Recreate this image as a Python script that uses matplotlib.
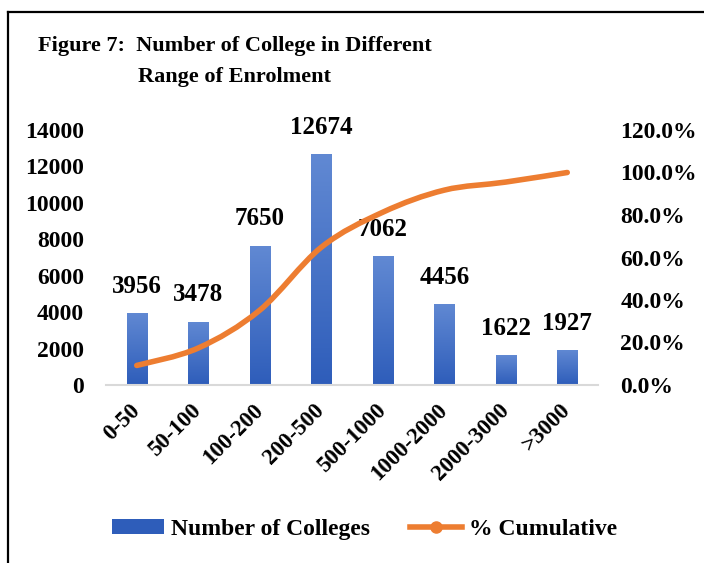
"""
Figure 7 — Number of College in Different Range of Enrolment
bar + cumulative % line, Excel-style recreation
"""
import numpy as np
import matplotlib
matplotlib.use('Agg')
import matplotlib.pyplot as plt
from matplotlib.path import Path as MPath
from matplotlib.patches import PathPatch
from matplotlib.lines import Line2D
from matplotlib.colors import LinearSegmentedColormap

plt.rcParams['font.family'] = ['Liberation Serif', 'DejaVu Serif']
plt.rcParams['font.weight'] = 'bold'

# ─── data ────────────────────────────────
ranges = ['0-50', '50-100', '100-200', '200-500', '500-1000',
          '1000-2000', '2000-3000', '>3000']
colleges = [3956, 3478, 7650, 12674, 7062, 4456, 1622, 1927]
cum_pct = [9.2, 17.4, 35.2, 64.8, 81.3, 91.7, 95.5, 100.0]

left_ticks = [0, 2000, 4000, 6000, 8000, 10000, 12000, 14000]
right_ticks = [0, 20, 40, 60, 80, 100, 120]

BLUE_TOP = '#6189D3'
BLUE_BOT = '#2E5DBA'
ORANGE = '#ED7D31'
GRID = '#D9D9D9'

fig = plt.figure(figsize=(7.04, 5.63), dpi=100, facecolor='white')

# frame lines (left + top, the picture is cropped on the other sides)
fig.add_artist(Line2D([8/704, 8/704], [0, 551/563], color='black', lw=1.6))
fig.add_artist(Line2D([8/704, 1], [551/563, 551/563], color='black', lw=1.6))

fig.text(0.333, 0.918, 'Figure 7:  Number of College in Different',
         fontsize=16, ha='center', va='center')
fig.text(0.333, 0.863, 'Range of Enrolment', fontsize=16, ha='center', va='center')

ax = fig.add_axes([106/704, 178/563, 492/704, 255/563])
x = np.arange(len(ranges))
bars = ax.bar(x, colleges, width=0.33, color=BLUE_BOT, zorder=2)

# vertical gradient on each bar
cmap = LinearSegmentedColormap.from_list('bg', [BLUE_BOT, BLUE_TOP])
grad = np.linspace(0, 1, 256).reshape(-1, 1)
for b in bars:
    x0, w, h = b.get_x(), b.get_width(), b.get_height()
    im = ax.imshow(grad, cmap=cmap, origin='lower', aspect='auto',
                   extent=[x0, x0 + w, 0, h], zorder=2.1)
    im.set_clip_path(b)

for xi, v in zip(x, colleges):
    ax.annotate(str(v), (xi, v), xytext=(0, 11), textcoords='offset points',
                ha='center', va='bottom', fontsize=18, fontweight='bold')

ax.set_xlim(-0.5, len(ranges) - 0.5)
ax.set_ylim(0, 14000)
ax.set_yticks(left_ticks)
ax.set_yticklabels([str(t) for t in left_ticks], fontsize=17, fontweight='bold')
ax.set_xticks(x)
ax.set_xticklabels(ranges, rotation=45, ha='right', va='center',
                   rotation_mode='anchor', fontsize=16.5, fontweight='bold')
ax.tick_params(axis='y', length=0, pad=16)
ax.tick_params(axis='x', length=0, pad=16)
for s in ['top', 'right', 'left']:
    ax.spines[s].set_visible(False)
ax.spines['bottom'].set_color(GRID)
ax.spines['bottom'].set_linewidth(1.5)
ax.set_facecolor('none')

# secondary axis: smoothed cumulative line
ax2 = ax.twinx()
ax2.set_ylim(0, 120)
ax2.set_yticks(right_ticks)
ax2.set_yticklabels([f'{t:.1f}%' for t in right_ticks], fontsize=17, fontweight='bold')
ax2.tick_params(axis='y', length=0, pad=16)
for s in ax2.spines.values():
    s.set_visible(False)

# Catmull-Rom style bezier through the points (Excel "smoothed line")
px = np.asarray(x, float)
py = np.asarray(cum_pct, float)
verts = [(px[0], py[0])]
codes = [MPath.MOVETO]
for i in range(len(px) - 1):
    p0 = (px[i-1], py[i-1]) if i > 0 else (px[i], py[i])
    p1 = (px[i], py[i])
    p2 = (px[i+1], py[i+1])
    p3 = (px[i+2], py[i+2]) if i + 2 < len(px) else (px[i+1], py[i+1])
    t = 1 / 6
    c1 = (p1[0] + (p2[0] - p0[0]) * t, p1[1] + (p2[1] - p0[1]) * t)
    c2 = (p2[0] - (p3[0] - p1[0]) * t, p2[1] - (p3[1] - p1[1]) * t)
    verts += [c1, c2, p2]
    codes += [MPath.CURVE4] * 3
ax2.add_patch(PathPatch(MPath(verts, codes), facecolor='none', edgecolor=ORANGE,
                        lw=4, capstyle='round', joinstyle='round', zorder=3))

# legend
handles = [plt.Rectangle((0, 0), 1, 1, facecolor=BLUE_BOT, edgecolor='none'),
           Line2D([], [], color=ORANGE, lw=4, marker='o', markersize=8)]
fig.legend(handles, ['Number of Colleges', '% Cumulative'], loc='center',
           bbox_to_anchor=(0.518, 0.059), ncol=2, frameon=False,
           prop={'size': 17, 'weight': 'bold'}, handlelength=2.2,
           handleheight=0.6, columnspacing=1.7, handletextpad=0.3)

plt.savefig('out.png', dpi=100, facecolor='white')
